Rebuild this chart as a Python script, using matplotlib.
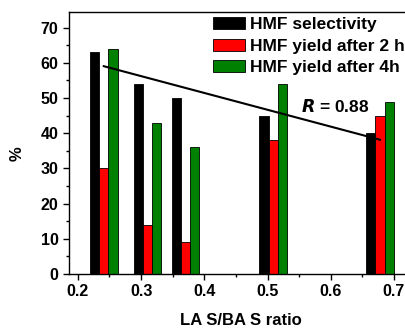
import numpy as np
import matplotlib.pyplot as plt

# LAS/BAS ratio of each catalyst and the measured values (%)
ratio = [0.241, 0.310, 0.370, 0.509, 0.678]
selectivity = [63, 54, 50, 45, 40]
yield_2h = [30, 14, 9, 38, 45]
yield_4h = [64, 43, 36, 54, 49]
labels = ['HMF selectivity', 'HMF yield after 2 h', 'HMF yield after 4h']
r_text = '$R$ = 0.88'

plt.rcParams['font.family'] = ['Liberation Sans', 'DejaVu Sans']
plt.rcParams['font.weight'] = 'bold'

fig = plt.figure(figsize=(4.06, 3.28), dpi=100)
ax = fig.add_axes([0.170, 0.165, 0.847, 0.799])

w = 0.0145
x = np.array(ratio)
ax.bar(x - w, selectivity, w, color='black', edgecolor='black', lw=0.6, label=labels[0])
ax.bar(x, yield_2h, w, color='#ff0000', edgecolor='black', lw=0.6, label=labels[1])
ax.bar(x + w, yield_4h, w, color='#008000', edgecolor='black', lw=0.6, label=labels[2])

# linear fit of selectivity vs ratio
k, b = np.polyfit(x, selectivity, 1)
xf = np.array([x[0], x[-1]])
ax.plot(xf, k * xf + b, color='black', lw=1.5)
ax.text(0.553, 47.5, r_text, fontsize=12.5, va='center', fontweight='bold')

ax.set_xlim(0.186, 0.73)
ax.set_ylim(0, 74.5)
ax.set_xticks([0.2, 0.3, 0.4, 0.5, 0.6, 0.7])
ax.set_xticks(np.arange(0.25, 0.7, 0.1), minor=True)
ax.set_yticks(range(0, 71, 10))
ax.set_yticks(range(5, 75, 10), minor=True)
ax.tick_params(which='both', direction='out', labelsize=11.5, width=1)
ax.tick_params(which='major', length=4)
ax.tick_params(which='minor', length=2.5)
for s in ax.spines.values():
    s.set_linewidth(1)

ax.set_xlabel('LA S/BA S ratio', fontsize=12, fontweight='bold', labelpad=10)
ax.set_ylabel('%', fontsize=12, fontweight='bold')
ax.yaxis.set_label_coords(-0.128, 0.46)

ax.legend(loc='upper left', bbox_to_anchor=(213 / 406, 1 - 17 / 328),
          bbox_transform=fig.transFigure, frameon=False, fontsize=12.5,
          handlelength=1.85, handleheight=0.72, labelspacing=0.36,
          handletextpad=0.3, borderaxespad=0, borderpad=0)

fig.savefig('out.png', dpi=100)
